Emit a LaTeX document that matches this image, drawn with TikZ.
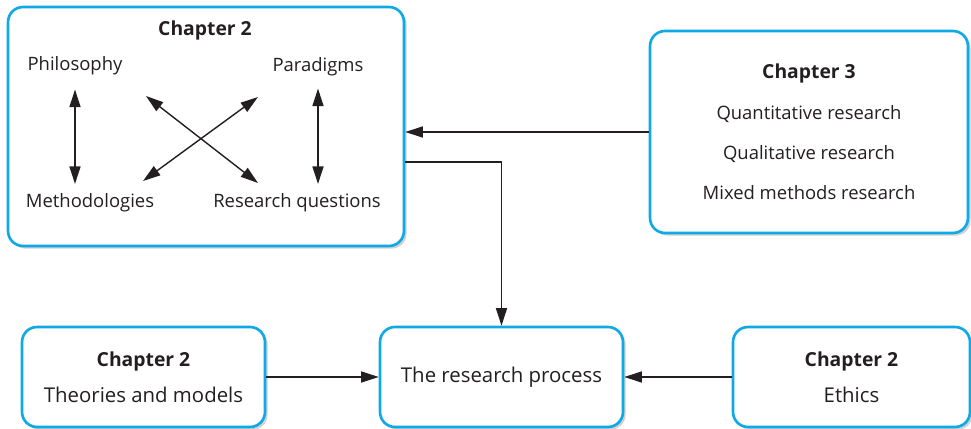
\documentclass[tikz,border=0pt]{standalone}
\usepackage{fontspec}
\setmainfont{Open Sans}
\usepackage{tikz}
\usetikzlibrary{arrows.meta, shadows, positioning}

\definecolor{boxblue}{HTML}{0FA9E6}
\definecolor{ink}{HTML}{231F20}

\begin{document}
\begin{tikzpicture}[x=0.02cm, y=-0.02cm, >={Triangle[length=3.5mm, width=2.2mm]},
        chapbox/.style={draw=boxblue, line width=1.5pt, rounded corners=3mm, fill=white,
            drop shadow={shadow xshift=1.5pt, shadow yshift=-1.5pt, opacity=0.3, fill=black!60}},
        item/.style={inner sep=0pt, text=ink, font=\fontsize{10.5}{12}\selectfont},
        head/.style={inner sep=0pt, text=ink, font=\bfseries\fontsize{11}{13}\selectfont},
        arr/.style={->, line width=0.8pt, draw=ink},
        dbl/.style={<->, line width=0.8pt, draw=ink}]
        \useasboundingbox (0,0) rectangle (971,429);

        % top left: chapter 2
        \node[chapbox, minimum width=7.92cm, minimum height=4.78cm] (chtwo) at (206, 126.5) {};
        \node[head] (chtwotitle) at (205, 30) {Chapter 2};
        \node[item] (phil) at (75, 66) {Philosophy};
        \node[item] (para) at (318, 67) {Paradigms};
        \node[item] (meth) at (90, 203) {Methodologies};
        \node[item] (resq) at (297, 203) {Research questions};

        \draw[dbl, shorten <=2.8mm, shorten >=1.9mm] (phil.south) -- (phil.south |- meth.north);
        \draw[dbl, shorten <=2.4mm, shorten >=1.9mm] (para.south) -- (para.south |- resq.north);

        \coordinate (phiend) at (146, 96);
        \coordinate (resend) at (258, 183);
        \coordinate (parend) at (258, 97);
        \coordinate (metend) at (143, 181);
        \draw[dbl] (phiend) -- (resend);
        \draw[dbl] (parend) -- (metend);

        % top right: chapter 3
        \node[chapbox, minimum width=6.36cm, minimum height=4.04cm, align=center, text=ink,
            font=\fontsize{10.5}{23}\selectfont] (chthree) at (809, 132)
            {{\bfseries\fontsize{11}{13}\selectfont Chapter 3}\\Quantitative research\\Qualitative research\\Mixed methods research};

        % bottom row
        \node[chapbox, minimum width=4.86cm, minimum height=2cm, align=center, text=ink,
            font=\fontsize{11.6}{20.4}\selectfont] (theo) at (143.5, 377)
            {{\bfseries\fontsize{11}{13}\selectfont Chapter 2}\\Theories and models};
        \node[chapbox, minimum width=4.86cm, minimum height=2cm, text=ink,
            font=\fontsize{11.6}{14}\selectfont] (proc) at (501.5, 377) {The research process};
        \node[chapbox, minimum width=4.74cm, minimum height=2cm, align=center, text=ink,
            font=\fontsize{11.6}{20.4}\selectfont] (eth) at (851.5, 377)
            {{\bfseries\fontsize{11}{13}\selectfont Chapter 2}\\Ethics};

        \draw[arr] (chthree.west) -- (chthree.west -| chtwo.east);
        \draw[arr] ([yshift=-0.71cm]chtwo.east) -| (proc.north);
        \draw[arr] (theo) -- (proc);
        \draw[arr] (eth) -- (proc);
\end{tikzpicture}
\end{document}
